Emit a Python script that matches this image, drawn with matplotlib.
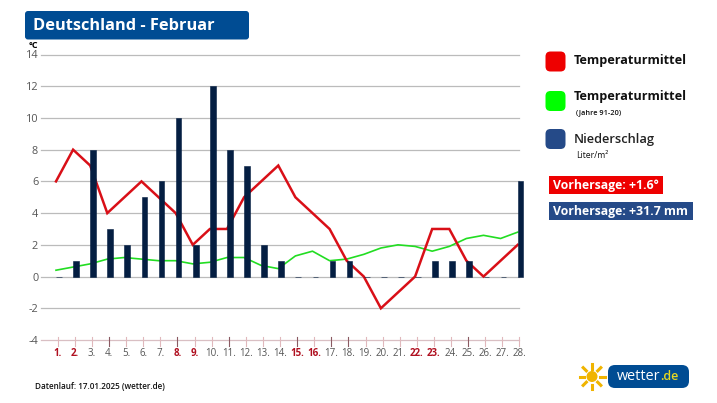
import matplotlib
matplotlib.use("Agg")
import matplotlib.pyplot as plt
from matplotlib.patches import FancyBboxPatch, Rectangle, Circle
import numpy as np

plt.rcParams['font.family'] = ['Open Sans', 'DejaVu Sans']
plt.rcParams['axes.unicode_minus'] = False

# data
days = list(range(1, 29))
day_labels = [f"{d}." for d in days]
weekend_days = [1, 2, 8, 9, 15, 16, 22, 23]
dark_ticks = [4, 8, 11, 15, 17, 18, 25]
temp_now = [6, 8, 7, 4, 5, 6, 5, 4, 2, 3, 3, 5, 6, 7, 5, 4, 3, 1, 0, -2, -1, 0, 3, 3, 1, 0, 1, 2]
temp_clim = [0.4, 0.6, 0.8, 1.1, 1.2, 1.1, 1.0, 1.0, 0.8, 0.9, 1.2, 1.2, 0.7, 0.5,
             1.3, 1.6, 1.0, 1.1, 1.4, 1.8, 2.0, 1.9, 1.6, 1.9, 2.4, 2.6, 2.4, 2.8]
rain = [0, 1, 8, 3, 2, 5, 6, 10, 2, 12, 8, 7, 2, 1, 0, 0, 1, 1, 0, 0, 0, 0, 1, 1, 1, 0, 0, 6]
y_ticks = [-4, -2, 0, 2, 4, 6, 8, 10, 12, 14]

W, H = 717, 403
fig = plt.figure(figsize=(W / 100, H / 100), dpi=100)

# chart axes, placed in pixels
left, right, top, bottom = 41, 530, 54.5, 340
ax = fig.add_axes([left / W, 1 - bottom / H, (right - left) / W, (bottom - top) / H])
x0 = 1 - (57.7 - left) / 17.1
ax.set_xlim(x0, x0 + (right - left) / 17.1)
ax.set_ylim(-4, 14)
for s in ax.spines.values():
    s.set_visible(False)
ax.set_yticks(y_ticks)
ax.tick_params(axis='y', length=0, labelsize=7.8, labelcolor='#555555', pad=2)
ax.set_xticks([])

# gridlines stop at the last day
for v in y_ticks:
    color = '#d9bfc3' if v == -4 else '#bbbbbb'
    ax.plot([x0, 28], [v, v], color=color, lw=0.9, zorder=1, clip_on=False)

x = np.array(days)
ax.plot(x - 0.1, temp_clim, color='#22dd22', lw=1.2, zorder=2)
ax.plot(x - 0.1, temp_now, color='#d90f17', lw=1.8, zorder=3, solid_joinstyle='miter')
ax.bar(x + 0.07, rain, width=0.33, color='#041e42', edgecolor='#041e42', linewidth=0.4, zorder=4)

# day ticks and labels
for d, lab in zip(days, day_labels):
    tc = '#8a5a62' if d in dark_ticks else '#e0b8bc'
    ax.plot([d, d], [-3.8, -4.4], color=tc, lw=0.8, clip_on=False, zorder=1)
    wk = d in weekend_days
    ax.text(d, -4.88, lab, ha='center', va='center', fontsize=7,
            color='#b01020' if wk else '#555555', fontweight='bold' if wk else 'normal')

# overlay in pixel coordinates for title box, legend and logo
ov = fig.add_axes([0, 0, 1, 1], zorder=5)
ov.set_xlim(0, W)
ov.set_ylim(H, 0)
ov.axis('off')
ov.patch.set_alpha(0)


def rbox(x, y, w, h, color, r=3):
    ov.add_patch(FancyBboxPatch((x + r, y + r), w - 2 * r, h - 2 * r,
                                boxstyle=f"round,pad={r},rounding_size={r}",
                                fc=color, ec='none'))


rbox(25, 11, 224, 28.5, '#004c93')
ov.text(33, 26, "Deutschland - Februar", color='white', fontsize=11.8,
        fontweight='bold', va='center')
ov.text(29, 45.5, "°C", fontsize=6.5, fontweight='bold', va='center', color='black')

rbox(545.5, 51.5, 20, 20, '#ee0000', r=5)
rbox(545.5, 91, 20, 20, '#00ff00', r=5)
rbox(545.5, 129, 20, 20, '#254a88', r=5)
ov.text(573.5, 60.5, "Temperaturmittel", fontsize=9.1, fontweight='bold', va='center', color='#111111')
ov.text(573.5, 96.5, "Temperaturmittel", fontsize=9.1, fontweight='bold', va='center', color='#111111')
ov.text(576, 113, "(Jahre 91-20)", fontsize=5.3, fontweight='semibold', va='center', color='#111111')
ov.text(574, 140, "Niederschlag", fontsize=9.3, fontweight='semibold', va='center', color='#222222')
ov.text(576, 155.5, "Liter/m²", fontsize=6.2, va='center', color='#111111')

ov.add_patch(Rectangle((548.5, 176), 114.5, 18, fc='#ee0000', ec='none'))
ov.text(553, 185, "Vorhersage: +1.6°", color='white', fontsize=8.8, fontweight='bold', va='center')
ov.add_patch(Rectangle((548.5, 201.5), 144, 18, fc='#254a88', ec='none'))
ov.text(553, 211, "Vorhersage: +31.7 mm", color='white', fontsize=8.8, fontweight='bold', va='center')

ov.text(35, 386.5, "Datenlauf: 17.01.2025 (wetter.de)", fontsize=5.85, fontweight='semibold',
        va='center', color='#111111')

# logo
cx, cy = 592, 376.5
ov.add_patch(Circle((cx, cy), 5.5, fc='#f0b400', ec='none'))
for a in np.arange(0, 360, 45):
    ca, sa = np.cos(np.radians(a)), np.sin(np.radians(a))
    ov.plot([cx + 8 * ca, cx + 12.5 * ca], [cy + 8 * sa, cy + 12.5 * sa], color='#f0b400', lw=2.2)
rbox(608, 365, 81, 23, '#004c93', r=7)
ov.text(617, 376.5, "wetter", color='white', fontsize=10.4, va='center')
ov.text(660, 377, ".de", color='#e8d820', fontsize=9, fontweight='semibold', va='center')

fig.savefig("out.png", dpi=100)
